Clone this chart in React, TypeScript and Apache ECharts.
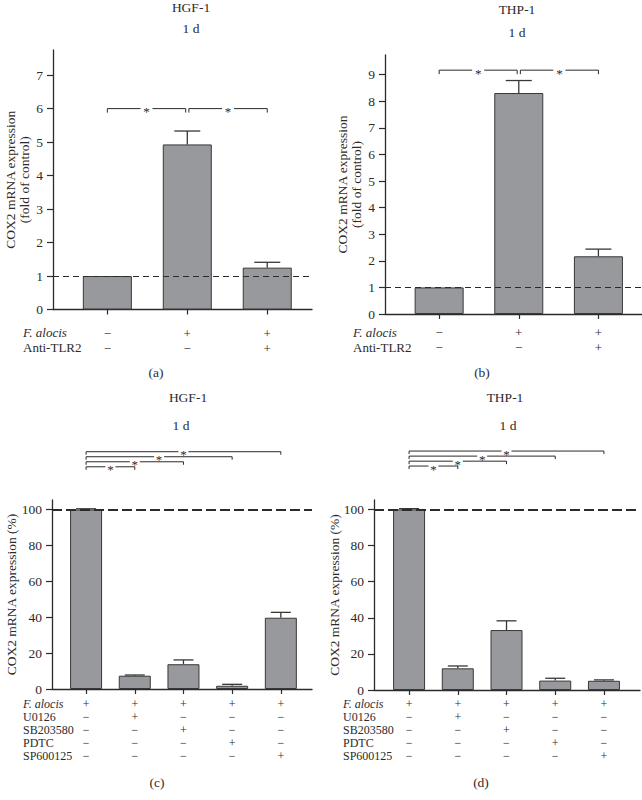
import React, { useEffect, useRef } from 'react';
import * as echarts from 'echarts';

const FONT = '"Liberation Serif", "DejaVu Serif", serif';
const INK = '#2b2b2b';
const BAR_FILL = '#98999d';
const BAR_EDGE = '#383838';

// ---- Panels (a) HGF-1 and (b) THP-1: fold of control ----
const positionsAB = [1, 2, 3];
const hgfFoldMeans = [1.0, 4.93, 1.25];
const hgfFoldUpper = [1.0, 5.33, 1.41];
const thpFoldMeans = [1.0, 8.31, 2.17];
const thpFoldUpper = [1.0, 8.78, 2.44];
const foldTicksA = [0, 1, 2, 3, 4, 5, 6, 7];
const foldTicksB = [0, 1, 2, 3, 4, 5, 6, 7, 8, 9];
const rowLabelsAB = ['F. alocis', 'Anti-TLR2'];
const signsAB = [
  ['−', '+', '+'],
  ['−', '−', '+'],
];
const bracketsA = [
  [1, 1.98, 6.0],
  [2.02, 3, 6.0],
];
const bracketsB = [
  [1, 1.98, 9.17],
  [2.02, 3, 9.17],
];

// ---- Panels (c) HGF-1 and (d) THP-1: % expression ----
const positionsCD = [1, 2, 3, 4, 5];
const hgfPctMeans = [100, 7.4, 13.8, 1.8, 39.7];
const hgfPctUpper = [100.4, 7.8, 16.2, 2.6, 42.7];
const thpPctMeans = [100, 12.0, 33.2, 5.2, 5.1];
const thpPctUpper = [100.4, 13.3, 38.3, 6.5, 5.6];
const pctTicks = [0, 20, 40, 60, 80, 100];
const rowLabelsCD = ['F. alocis', 'U0126', 'SB203580', 'PDTC', 'SP600125'];
const signsCD = [
  ['+', '+', '+', '+', '+'],
  ['−', '+', '−', '−', '−'],
  ['−', '−', '+', '−', '−'],
  ['−', '−', '−', '+', '−'],
  ['−', '−', '−', '−', '+'],
];
const bracketsC = [
  [1, 2, 123.8],
  [1, 3, 126.6],
  [1, 4, 129.4],
  [1, 5, 132.2],
];
const bracketsD = [
  [1, 2, 124.0],
  [1, 3, 126.7],
  [1, 4, 129.5],
  [1, 5, 132.3],
];

const panels = [
  {
    grid: { left: 53, top: 50, width: 259, height: 259.5 },
    xMin: 0.32, xMax: 3.56, yMax: 7.75, ticks: foldTicksA,
    positions: positionsAB, means: hgfFoldMeans, upper: hgfFoldUpper,
    brackets: bracketsA, signs: signsAB, barWidth: 49, capHalf: 13,
    refY: 1, dash: [6, 4], dashWidth: 1,
    name: 'COX2 mRNA expression\n(fold of control)', nameGap: 22,
    rowFont: 13, lineHeight: 15, labelMargin: 16, bracketTick: 4, starGap: 6,
    rowX: 23, rowY0: 332, rowLabels: rowLabelsAB,
  },
  {
    grid: { left: 385, top: 55, width: 258, height: 259 },
    xMin: 0.32, xMax: 3.56, yMax: 9.74, ticks: foldTicksB,
    positions: positionsAB, means: thpFoldMeans, upper: thpFoldUpper,
    brackets: bracketsB, signs: signsAB, barWidth: 49, capHalf: 13,
    refY: 1, dash: [6, 4], dashWidth: 1,
    name: 'COX2 mRNA expression\n(fold of control)', nameGap: 22,
    rowFont: 13, lineHeight: 15, labelMargin: 11, bracketTick: 4, starGap: 6,
    rowX: 353, rowY0: 332, rowLabels: rowLabelsAB,
  },
  {
    grid: { left: 52, top: 500, width: 260, height: 189 },
    xMin: 0.3, xMax: 5.64, yMax: 105.3, ticks: pctTicks,
    positions: positionsCD, means: hgfPctMeans, upper: hgfPctUpper,
    brackets: bracketsC, signs: signsCD, barWidth: 32, capHalf: 10,
    refY: 100, dash: [10, 4], dashWidth: 1.8,
    name: 'COX2 mRNA expression (%)', nameGap: 34,
    rowFont: 12, lineHeight: 13, labelMargin: 8.5, bracketTick: 3, starGap: 5,
    rowX: 23, rowY0: 704, rowLabels: rowLabelsCD,
  },
  {
    grid: { left: 374, top: 500, width: 266, height: 190 },
    xMin: 0.28, xMax: 5.74, yMax: 105.2, ticks: pctTicks,
    positions: positionsCD, means: thpPctMeans, upper: thpPctUpper,
    brackets: bracketsD, signs: signsCD, barWidth: 32, capHalf: 10,
    refY: 100, dash: [10, 4], dashWidth: 1.8,
    name: 'COX2 mRNA expression (%)', nameGap: 33,
    rowFont: 12, lineHeight: 13, labelMargin: 7.5, bracketTick: 3, starGap: 5,
    rowX: 343, rowY0: 704, rowLabels: rowLabelsCD,
  },
];

const headings = [
  { t: 'HGF-1', x: 191, y: 7 },
  { t: '1 d', x: 191, y: 28 },
  { t: 'THP-1', x: 517, y: 9 },
  { t: '1 d', x: 517, y: 32 },
  { t: '(a)', x: 156, y: 372 },
  { t: '(b)', x: 482, y: 372 },
  { t: 'HGF-1', x: 188, y: 397 },
  { t: '1 d', x: 181, y: 425 },
  { t: 'THP-1', x: 505, y: 397 },
  { t: '1 d', x: 508, y: 425 },
  { t: '(c)', x: 157, y: 782 },
  { t: '(d)', x: 481, y: 782 },
];

function textEl(t: string, x: number, y: number, align: string, size: number, italic = false) {
  return {
    type: 'text',
    x,
    y,
    silent: true,
    style: {
      text: t,
      fill: INK,
      fontFamily: FONT,
      fontSize: size,
      fontStyle: italic ? 'italic' : 'normal',
      align,
      verticalAlign: 'middle',
      textAlign: align,
      textVerticalAlign: 'middle',
    },
  };
}

function buildOption() {
  const grid: any[] = [];
  const xAxis: any[] = [];
  const yAxis: any[] = [];
  const series: any[] = [];
  const graphic: any[] = [];

  panels.forEach((p, i) => {
    grid.push({ ...p.grid, containLabel: false, outerBoundsMode: 'none' });
    xAxis.push({
      type: 'value',
      gridIndex: i,
      min: p.xMin,
      max: p.xMax,
      axisLine: { show: true, onZero: false, lineStyle: { color: INK, width: 1.3 } },
      axisTick: {
        show: true,
        length: 5,
        customValues: p.positions,
        lineStyle: { color: INK, width: 1.2 },
      },
      axisLabel: {
        show: true,
        customValues: p.positions,
        margin: p.labelMargin,
        color: INK,
        fontFamily: FONT,
        fontSize: p.rowFont,
        lineHeight: p.lineHeight,
        formatter: (v: number) => p.signs.map((row) => row[Math.round(v) - 1]).join('\n'),
      },
      splitLine: { show: false },
    });
    yAxis.push({
      type: 'value',
      gridIndex: i,
      min: 0,
      max: p.yMax,
      axisLine: { show: true, lineStyle: { color: INK, width: 1.3 } },
      axisTick: {
        show: true,
        length: 6,
        customValues: p.ticks,
        lineStyle: { color: INK, width: 1.2 },
      },
      axisLabel: {
        show: true,
        customValues: p.ticks,
        margin: 10,
        color: INK,
        fontFamily: FONT,
        fontSize: 13.5,
      },
      splitLine: { show: false },
      name: p.name,
      nameLocation: 'middle',
      nameGap: p.nameGap,
      nameRotate: 90,
      nameMoveOverlap: false,
      nameTextStyle: { color: INK, fontFamily: FONT, fontSize: 13.5, lineHeight: 14 },
    });

    series.push({
      type: 'bar',
      xAxisIndex: i,
      yAxisIndex: i,
      barWidth: p.barWidth,
      data: p.positions.map((x, k) => [x, p.means[k]]),
      itemStyle: { color: BAR_FILL, borderColor: BAR_EDGE, borderWidth: 1 },
      z: 2,
      markLine: {
        silent: true,
        symbol: ['none', 'none'],
        label: { show: false },
        lineStyle: { type: p.dash, color: INK, width: p.dashWidth },
        data: [{ yAxis: p.refY }],
        z: 4,
      },
    });

    const capHalf = p.capHalf;
    series.push({
      type: 'custom',
      xAxisIndex: i,
      yAxisIndex: i,
      clip: false,
      z: 3,
      data: p.positions.map((x, k) => [x, p.means[k], p.upper[k]]),
      renderItem: (_params: any, api: any) => {
        const x = api.value(0);
        const v = api.value(1);
        const u = api.value(2);
        if (!(u > v)) return { type: 'group', children: [] };
        const a = api.coord([x, v]);
        const b = api.coord([x, u]);
        const st = { stroke: BAR_EDGE, lineWidth: 1.3 };
        return {
          type: 'group',
          children: [
            { type: 'line', shape: { x1: a[0], y1: a[1], x2: b[0], y2: b[1] }, style: st },
            { type: 'line', shape: { x1: b[0] - capHalf, y1: b[1], x2: b[0] + capHalf, y2: b[1] }, style: st },
          ],
        };
      },
    });

    const tick = p.bracketTick;
    const gap = p.starGap;
    series.push({
      type: 'custom',
      xAxisIndex: i,
      yAxisIndex: i,
      clip: false,
      z: 5,
      data: p.brackets,
      renderItem: (_params: any, api: any) => {
        const p1 = api.coord([api.value(0), api.value(2)]);
        const p2 = api.coord([api.value(1), api.value(2)]);
        const mid = (p1[0] + p2[0]) / 2;
        const y = p1[1];
        const st = { stroke: INK, lineWidth: 1, fill: null };
        return {
          type: 'group',
          children: [
            { type: 'polyline', shape: { points: [[p1[0], y + tick], [p1[0], y], [mid - gap, y]] }, style: st },
            { type: 'polyline', shape: { points: [[mid + gap, y], [p2[0], y], [p2[0], y + tick]] }, style: st },
            {
              type: 'text',
              x: mid,
              y: y + 3,
              style: {
                text: '*',
                fill: INK,
                fontFamily: FONT,
                fontSize: 13,
                align: 'center',
                verticalAlign: 'middle',
              },
            },
          ],
        };
      },
    });

    p.rowLabels.forEach((lab, r) => {
      graphic.push(textEl(lab, p.rowX, p.rowY0 + r * p.lineHeight, 'left', p.rowFont, r === 0));
    });
  });

  headings.forEach((h) => graphic.push(textEl(h.t, h.x, h.y, 'center', 13.5)));

  return {
    animation: false,
    backgroundColor: '#ffffff',
    textStyle: { fontFamily: FONT, color: INK },
    grid,
    xAxis,
    yAxis,
    series,
    graphic: { elements: graphic },
  };
}

export default function App() {
  const ref = useRef<HTMLDivElement>(null);
  useEffect(() => {
    if (!ref.current) return;
    const chart = echarts.init(ref.current, null, { renderer: 'svg' });
    chart.setOption(buildOption() as any);
    return () => chart.dispose();
  }, []);
  return (
    <div
      ref={ref}
      style={{ position: 'absolute', left: 0, top: 0, width: 642, height: 800, background: '#fff' }}
    />
  );
}
